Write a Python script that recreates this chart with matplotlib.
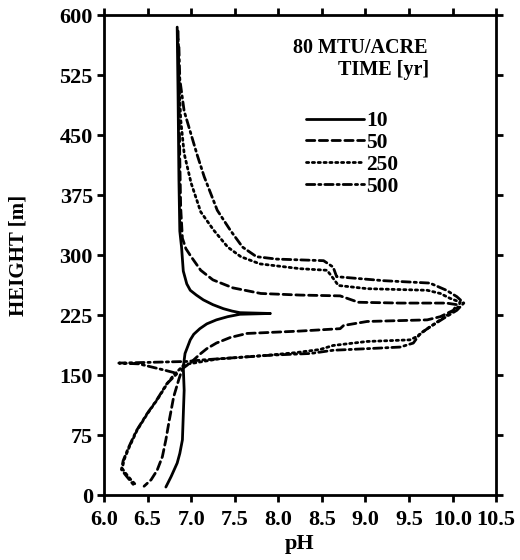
import matplotlib
matplotlib.use("Agg")
import matplotlib.pyplot as plt

# ---- data (pH vs height) ----
ph_10 = [6.84, 6.85, 6.86, 6.87, 6.89, 6.91, 6.95, 6.99, 7.06, 7.14, 7.25, 7.37, 7.47, 7.56, 7.91,
         7.56, 7.42, 7.29, 7.18, 7.10, 7.03, 6.99, 6.93, 6.91, 6.92, 6.91, 6.90, 6.87, 6.84, 6.77, 6.71]
h_10 = [585, 500, 394, 330, 310, 280, 264, 256, 250, 244, 238, 233, 230, 228, 227,
        226, 223, 219, 214, 208, 201, 194, 177, 160, 131, 100, 69, 52, 40, 23, 10]

ph_50 = [6.85, 6.86, 6.87, 6.88, 6.90, 6.94, 7.00, 7.11, 7.25, 7.48, 7.80, 8.25, 8.71,
         8.92, 9.40, 9.93, 10.05, 10.01, 9.86, 9.71, 9.02, 8.75, 8.71, 8.25,
         7.64, 7.45, 7.29, 7.18, 7.10, 7.00, 6.90, 6.86, 6.80, 6.75, 6.71, 6.67, 6.61, 6.54, 6.46]
h_50 = [580, 500, 420, 360, 321, 308, 298, 281, 269, 259, 252, 250, 249,
        241, 240, 240, 238, 231, 223, 219, 217, 212, 208, 205,
        202, 197, 190, 183, 176, 166, 158, 145, 123, 94, 69, 48, 31, 19, 11]

ph_250 = [6.85, 6.86, 6.88, 6.92, 7.00, 7.11, 7.26, 7.42, 7.57, 7.79, 8.25, 8.56,
          8.63, 8.69, 9.02, 9.71, 9.86, 9.97, 10.09, 10.05, 9.90, 9.71, 9.59,
          9.51, 9.02, 8.63, 8.48, 8.20, 7.90, 7.30, 6.92,
          6.80, 6.73, 6.61, 6.50, 6.38, 6.29, 6.23, 6.21, 6.25, 6.31, 6.38]
h_250 = [570, 520, 470, 427, 390, 354, 331, 310, 298, 289, 283, 281,
         271, 262, 258, 256, 252, 246, 241, 233, 222, 208, 198,
         194, 192, 187, 182, 178, 175, 170, 163,
         150, 140, 119, 102, 81, 60, 44, 33, 27, 19, 11]

ph_500 = [6.86, 6.87, 6.92, 7.07, 7.15, 7.30, 7.45, 7.59, 7.75, 7.98, 8.52, 8.63,
          8.67, 9.21, 9.74, 9.93, 10.05, 10.13, 10.05, 9.90, 9.74, 9.63,
          9.55, 9.40, 9.02, 8.63, 8.37, 7.94, 7.14, 6.95, 6.17,
          6.40, 6.55, 6.70, 6.84, 6.72, 6.60, 6.49, 6.37, 6.28, 6.22, 6.20,
          6.24, 6.30, 6.36]
h_500 = [560, 520, 480, 425, 398, 356, 331, 310, 298, 295, 293, 285,
         273, 268, 265, 256, 248, 240, 231, 221, 210, 202,
         190, 185, 183, 181, 177, 175, 169, 167, 165,
         164, 160, 156, 152, 139, 118, 101, 80, 59, 43, 32,
         26, 18, 10]

series = [
    ("10", ph_10, h_10, "-"),
    ("50", ph_50, h_50, (0, (3.0, 1.6))),
    ("250", ph_250, h_250, (0, (0.8, 1.3))),
    ("500", ph_500, h_500, (0, (3.0, 1.4, 0.8, 1.4))),
]

x_ticks = [6.0, 6.5, 7.0, 7.5, 8.0, 8.5, 9.0, 9.5, 10.0, 10.5]
x_labels = ["6.0", "6.5", "7.0", "7.5", "8.0", "8.5", "9.0", "9.5", "10.0", "10.5"]
y_ticks = [0, 75, 150, 225, 300, 375, 450, 525, 600]

plt.rcParams["font.family"] = ["Liberation Serif", "DejaVu Serif"]

fig = plt.figure(figsize=(5.2, 5.6), dpi=100)
ax = fig.add_axes([0.2, 0.116, 0.754, 0.857])

for label, xs, ys, ls in series:
    ax.plot(xs, ys, color="black", lw=2.0, linestyle=ls, label=label,
            solid_capstyle="round", dash_capstyle="round", solid_joinstyle="round")

ax.set_xlim(6.0, 10.5)
ax.set_ylim(0, 600)
ax.set_xticks(x_ticks)
ax.set_xticklabels(x_labels)
ax.set_yticks(y_ticks)

for sp in ax.spines.values():
    sp.set_linewidth(2.0)

ax.tick_params(axis="both", which="major", direction="out", length=5, width=2.0,
               labelsize=16, top=True, right=True)
ax.tick_params(axis="x", pad=6)
ax.tick_params(axis="y", pad=3)
for t in ax.get_xticklabels() + ax.get_yticklabels():
    t.set_fontweight("bold")

ax.set_xlabel("pH", fontsize=16, fontweight="bold", labelpad=3)
ax.set_ylabel("HEIGHT [m]", fontsize=15, fontweight="bold", labelpad=22)

ax.text(0.825, 0.931, "80 MTU/ACRE", transform=ax.transAxes, fontsize=14.5,
        ha="right", va="center", fontweight="bold")
ax.text(0.83, 0.885, "TIME [yr]", transform=ax.transAxes, fontsize=14.5,
        ha="right", va="center", fontweight="bold")

leg = ax.legend(loc="upper left", bbox_to_anchor=(0.515, 0.80), frameon=False,
                fontsize=15.5, handlelength=2.7, handletextpad=0.1,
                labelspacing=0.08, borderaxespad=0, borderpad=0)
for t in leg.get_texts():
    t.set_fontweight("bold")

fig.savefig("out.png", dpi=100)
